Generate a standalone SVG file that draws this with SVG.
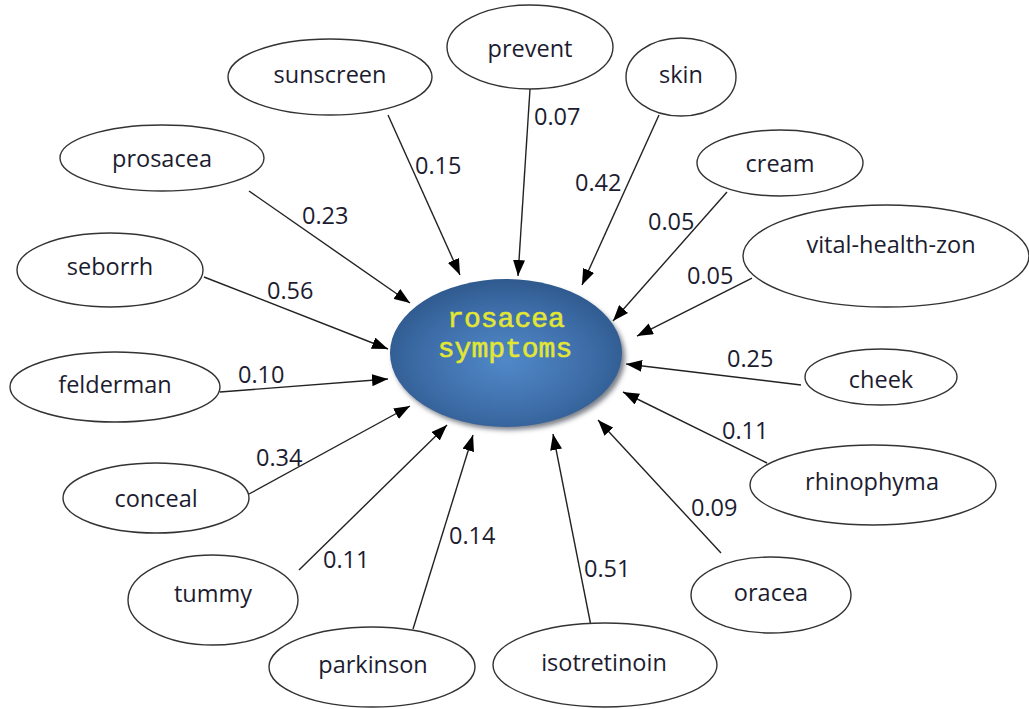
<svg xmlns="http://www.w3.org/2000/svg" width="1029" height="709" viewBox="0 0 1029 709">
<style>
.n ellipse{fill:#fff;stroke:#333;stroke-width:1.4}
.n text{font-family:"Open Sans","DejaVu Sans",sans-serif;font-size:23.5px;fill:#1c1c30;text-anchor:middle}
.e line{stroke:#222;stroke-width:1.4;marker-end:url(#arr)}
.e text{font-family:"Open Sans","DejaVu Sans",sans-serif;font-size:23.5px;fill:#1c1c30}
.c text{font-family:"Liberation Mono","Courier New",monospace;font-size:28px;fill:#e2e634;stroke:#e2e634;stroke-width:0.6;text-anchor:middle}
</style>
<defs>
<marker id="arr" viewBox="0 0 16 12" refX="16" refY="6" markerWidth="16" markerHeight="12" orient="auto" markerUnits="userSpaceOnUse">
<path d="M0,0 L16,6 L0,12 z" fill="#000"/>
</marker>
<radialGradient id="g" cx="0.5" cy="0.55" r="0.55">
<stop offset="0" stop-color="#5089c8"/>
<stop offset="0.6" stop-color="#3f6fab"/>
<stop offset="1" stop-color="#2f5a8e"/>
</radialGradient>
<filter id="sh" x="-20%" y="-20%" width="140%" height="140%">
<feGaussianBlur stdDeviation="2.5"/>
</filter>
</defs>
<rect width="1029" height="709" fill="#fff"/>
<g class="e" id="edges">
<line x1="388" y1="115" x2="460" y2="275"/>
<line x1="249" y1="191" x2="410" y2="303"/>
<line x1="530" y1="89" x2="518" y2="276"/>
<line x1="659" y1="115" x2="582" y2="285"/>
<line x1="727" y1="192" x2="613" y2="321"/>
<line x1="752" y1="278" x2="637" y2="336"/>
<line x1="204" y1="277" x2="388" y2="349"/>
<line x1="220" y1="392" x2="388" y2="379"/>
<line x1="249" y1="494" x2="410" y2="406"/>
<line x1="299" y1="570" x2="447" y2="425"/>
<line x1="413" y1="629" x2="473" y2="435"/>
<line x1="591" y1="626" x2="553" y2="434"/>
<line x1="721" y1="553" x2="598" y2="420"/>
<line x1="767" y1="463" x2="623" y2="392"/>
<line x1="801" y1="385" x2="626" y2="364"/>
<text x="415" y="174">0.15</text>
<text x="302" y="224">0.23</text>
<text x="534" y="125">0.07</text>
<text x="575" y="191">0.42</text>
<text x="648" y="230">0.05</text>
<text x="687" y="284">0.05</text>
<text x="267" y="299">0.56</text>
<text x="238" y="383">0.10</text>
<text x="256" y="466">0.34</text>
<text x="323" y="568">0.11</text>
<text x="449" y="544">0.14</text>
<text x="727" y="367">0.25</text>
<text x="722" y="439">0.11</text>
<text x="691" y="516">0.09</text>
<text x="584" y="577">0.51</text>
</g>
<g class="c" id="center">
<ellipse cx="509" cy="357" rx="116" ry="73" fill="#7a7f88" filter="url(#sh)"/>
<ellipse cx="506" cy="353" rx="116" ry="74" fill="url(#g)"/>
<text x="506" y="327">rosacea</text>
<text x="505" y="357">symptoms</text>
</g>
<g class="n" id="n-sunscreen"><ellipse cx="330" cy="77" rx="102" ry="38"/><text x="330" y="83">sunscreen</text></g>
<g class="n" id="n-prosacea"><ellipse cx="162" cy="158" rx="102" ry="33"/><text x="162" y="167">prosacea</text></g>
<g class="n" id="n-prevent"><ellipse cx="530" cy="47" rx="83" ry="42"/><text x="530" y="57">prevent</text></g>
<g class="n" id="n-skin"><ellipse cx="681" cy="77" rx="55" ry="39"/><text x="681" y="83">skin</text></g>
<g class="n" id="n-cream"><ellipse cx="780" cy="163" rx="83" ry="33"/><text x="780" y="172">cream</text></g>
<g class="n" id="n-vital"><ellipse cx="886" cy="256" rx="143" ry="51"/><text x="891" y="253">vital-health-zon</text></g>
<g class="n" id="n-seborrh"><ellipse cx="110" cy="270" rx="93" ry="37"/><text x="110" y="275">seborrh</text></g>
<g class="n" id="n-felderman"><ellipse cx="115" cy="387" rx="105" ry="35"/><text x="115" y="393">felderman</text></g>
<g class="n" id="n-conceal"><ellipse cx="156" cy="498" rx="93" ry="35"/><text x="156" y="507">conceal</text></g>
<g class="n" id="n-tummy"><ellipse cx="213" cy="600" rx="85" ry="45"/><text x="213" y="602">tummy</text></g>
<g class="n" id="n-parkinson"><ellipse cx="372" cy="667" rx="103" ry="40"/><text x="373" y="673">parkinson</text></g>
<g class="n" id="n-isotretinoin"><ellipse cx="605" cy="665" rx="112" ry="42"/><text x="604" y="671">isotretinoin</text></g>
<g class="n" id="n-oracea"><ellipse cx="771" cy="595" rx="80" ry="38"/><text x="771" y="601">oracea</text></g>
<g class="n" id="n-rhinophyma"><ellipse cx="873" cy="485" rx="123" ry="40"/><text x="872" y="490">rhinophyma</text></g>
<g class="n" id="n-cheek"><ellipse cx="881" cy="377" rx="76" ry="28"/><text x="881" y="388">cheek</text></g>
</svg>
